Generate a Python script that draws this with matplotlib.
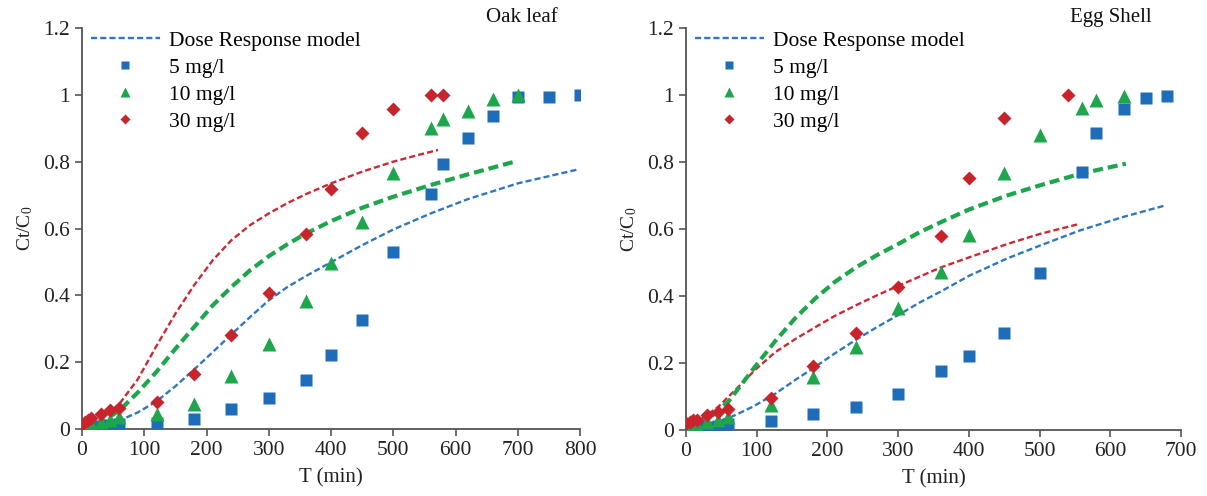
import matplotlib
matplotlib.use("Agg")
import matplotlib.pyplot as plt
from matplotlib.lines import Line2D

plt.rcParams['font.family'] = ['Liberation Serif', 'DejaVu Serif']
plt.rcParams['mathtext.fontset'] = 'custom'
plt.rcParams['mathtext.rm'] = 'Liberation Serif'
plt.rcParams['mathtext.it'] = 'Liberation Serif:italic'

# ---------------- Oak leaf data ----------------
oak_t5 = [0, 5, 10, 15, 30, 45, 60, 120, 180, 240, 300, 360, 400, 450, 500, 560, 580, 620, 660, 700, 750, 800]
oak_v5 = [0.0, 0.002, 0.004, 0.005, 0.008, 0.012, 0.015, 0.017, 0.029, 0.059, 0.094, 0.147, 0.22, 0.326, 0.529, 0.704, 0.792, 0.872, 0.936, 0.994, 0.994, 1.0]
oak_t10 = [0, 5, 10, 15, 30, 45, 60, 120, 180, 240, 300, 360, 400, 450, 500, 560, 580, 620, 660, 700]
oak_v10 = [0.0, 0.005, 0.01, 0.015, 0.02, 0.028, 0.035, 0.044, 0.076, 0.159, 0.254, 0.382, 0.496, 0.619, 0.766, 0.902, 0.929, 0.952, 0.987, 1.0]
oak_t30 = [0, 5, 10, 15, 30, 45, 60, 120, 180, 240, 300, 360, 400, 450, 500, 560, 580]
oak_v30 = [0.015, 0.02, 0.028, 0.032, 0.045, 0.057, 0.064, 0.082, 0.166, 0.282, 0.406, 0.584, 0.719, 0.886, 0.957, 1.0, 1.0]

# model curves
oak_m5_t = [0, 30, 60, 90, 120, 150, 180, 210, 240, 270, 300, 330, 360, 400, 450, 500, 560, 620, 700, 795]
oak_m5_v = [0.0, 0.008, 0.025, 0.05, 0.083, 0.128, 0.178, 0.23, 0.283, 0.335, 0.385, 0.425, 0.458, 0.499, 0.55, 0.597, 0.645, 0.688, 0.735, 0.776]
oak_m10_t = [0, 30, 60, 90, 120, 150, 180, 210, 240, 270, 300, 330, 360, 400, 450, 500, 560, 620, 695]
oak_m10_v = [0.0, 0.02, 0.055, 0.11, 0.172, 0.24, 0.305, 0.37, 0.425, 0.475, 0.517, 0.553, 0.585, 0.622, 0.662, 0.695, 0.73, 0.762, 0.8]
oak_m30_t = [0, 30, 60, 90, 120, 150, 180, 210, 240, 270, 300, 330, 360, 400, 450, 500, 540, 572]
oak_m30_v = [0.0, 0.028, 0.075, 0.15, 0.25, 0.345, 0.43, 0.505, 0.565, 0.61, 0.645, 0.676, 0.703, 0.735, 0.77, 0.8, 0.82, 0.835]

# ---------------- Egg shell data ----------------
egg_t5 = [0, 5, 10, 15, 30, 45, 60, 120, 180, 240, 300, 360, 400, 450, 500, 560, 580, 620, 650, 680]
egg_v5 = [0.0, 0.002, 0.004, 0.005, 0.008, 0.012, 0.018, 0.026, 0.048, 0.07, 0.107, 0.175, 0.22, 0.289, 0.468, 0.771, 0.888, 0.959, 0.991, 0.997]
egg_t10 = [0, 5, 10, 15, 30, 45, 60, 120, 180, 240, 300, 360, 400, 450, 500, 560, 580, 620]
egg_v10 = [0.005, 0.01, 0.012, 0.015, 0.025, 0.03, 0.04, 0.075, 0.159, 0.249, 0.363, 0.473, 0.582, 0.766, 0.88, 0.96, 0.984, 0.996]
egg_t30 = [0, 5, 10, 15, 30, 45, 60, 120, 180, 240, 300, 360, 400, 450, 540]
egg_v30 = [0.02, 0.025, 0.03, 0.03, 0.045, 0.053, 0.063, 0.095, 0.191, 0.289, 0.428, 0.579, 0.751, 0.931, 1.0]

egg_m5_t = [0, 30, 65, 95, 126, 155, 183, 210, 240, 270, 300, 330, 360, 400, 454, 500, 556, 620, 679]
egg_m5_v = [0.0, 0.012, 0.04, 0.07, 0.108, 0.15, 0.189, 0.228, 0.269, 0.307, 0.343, 0.38, 0.413, 0.46, 0.512, 0.55, 0.595, 0.637, 0.671]
egg_m10_t = [0, 30, 60, 98, 126, 155, 183, 211, 240, 270, 300, 330, 360, 400, 454, 500, 558, 622]
egg_m10_v = [0.0, 0.03, 0.085, 0.19, 0.265, 0.335, 0.393, 0.443, 0.485, 0.522, 0.555, 0.59, 0.62, 0.658, 0.7, 0.73, 0.765, 0.795]
egg_m30_t = [0, 24, 46, 70, 98, 126, 155, 183, 210, 240, 270, 300, 360, 400, 454, 500, 556]
egg_m30_v = [0.0, 0.036, 0.07, 0.12, 0.18, 0.232, 0.272, 0.307, 0.34, 0.372, 0.402, 0.43, 0.485, 0.515, 0.555, 0.585, 0.615]

titles = ["Oak leaf", "Egg Shell"]
legend_labels = ["Dose Response model", "5 mg/l", "10 mg/l", "30 mg/l"]

C_BLUE = '#1f6cb8'
C_GREEN = '#1da64c'
C_RED = '#c8242c'
C_BLUE_L = '#2e78c2'
C_RED_L = '#cc2a33'

W, H = 1207, 496
fig = plt.figure(figsize=(W / 100, H / 100), dpi=100)

def px_axes(x0, x1, y_top, y_bot):
    return fig.add_axes([x0 / W, 1 - y_bot / H, (x1 - x0) / W, (y_bot - y_top) / H])

ax1 = px_axes(82, 580, 28, 429)
ax2 = px_axes(686, 1181, 28, 430)

panels = [
    (ax1, 800, (oak_t5, oak_v5), (oak_t10, oak_v10), (oak_t30, oak_v30),
     (oak_m5_t, oak_m5_v), (oak_m10_t, oak_m10_v), (oak_m30_t, oak_m30_v), titles[0], 0.955),
    (ax2, 700, (egg_t5, egg_v5), (egg_t10, egg_v10), (egg_t30, egg_v30),
     (egg_m5_t, egg_m5_v), (egg_m10_t, egg_m10_v), (egg_m30_t, egg_m30_v), titles[1], 0.94),
]

for ax, xmax, d5, d10, d30, m5, m10, m30, title, tx in panels:
    ax.plot(*m5, color=C_BLUE_L, lw=1.7, dashes=[2.6, 1.3], zorder=2)
    ax.plot(*m30, color=C_RED_L, lw=1.7, dashes=[2.6, 1.3], zorder=2)
    ax.plot(*m10, color=C_GREEN, lw=3.0, dashes=[2.4, 1.2], zorder=2)
    ax.plot(*d5, ls='none', marker='s', ms=8.5, color=C_BLUE, mec='none', zorder=3)
    ax.plot(*d10, ls='none', marker='^', ms=9.5, color=C_GREEN, mec='none', zorder=3)
    ax.plot(*d30, ls='none', marker='D', ms=7, color=C_RED, mec='none', zorder=3)

    ax.set_xlim(0, xmax)
    ax.set_ylim(0, 1.2)
    ax.set_xticks(range(0, xmax + 1, 100))
    ax.set_yticks([0, 0.2, 0.4, 0.6, 0.8, 1.0, 1.2])
    ax.set_yticklabels(['0', '0.2', '0.4', '0.6', '0.8', '1', '1.2'])
    for s in ['top', 'right']:
        ax.spines[s].set_visible(False)
    for s in ['left', 'bottom']:
        ax.spines[s].set_color('#555555')
        ax.spines[s].set_linewidth(1.3)
    ax.tick_params(direction='out', length=5, width=1.2, color='#555555',
                   labelsize=15.5, labelcolor='#222222')
    ax.set_xlabel('T (min)', fontsize=15, color='#222222', labelpad=6)
    ax.set_ylabel('Ct/C$_0$', fontsize=14, color='#222222', labelpad=6)
    ax.text(tx, 1.025, title, transform=ax.transAxes, ha='right', va='center',
            fontsize=15, color='#111111')
    ax.patch.set_alpha(0)

    handles = [
        Line2D([], [], color=C_BLUE_L, lw=1.7, dashes=[2.6, 1.3]),
        Line2D([], [], ls='none', marker='s', ms=6, color=C_BLUE, mec='none'),
        Line2D([], [], ls='none', marker='^', ms=6.5, color=C_GREEN, mec='none'),
        Line2D([], [], ls='none', marker='D', ms=5, color=C_RED, mec='none'),
    ]
    ax.legend(handles, legend_labels, loc='upper left', bbox_to_anchor=(0.0, 1.015),
              frameon=False, fontsize=15.5, handlelength=3.2, handletextpad=0.45,
              labelspacing=0.32, borderaxespad=0.2, borderpad=0.2)

fig.savefig('out.png', dpi=100)
